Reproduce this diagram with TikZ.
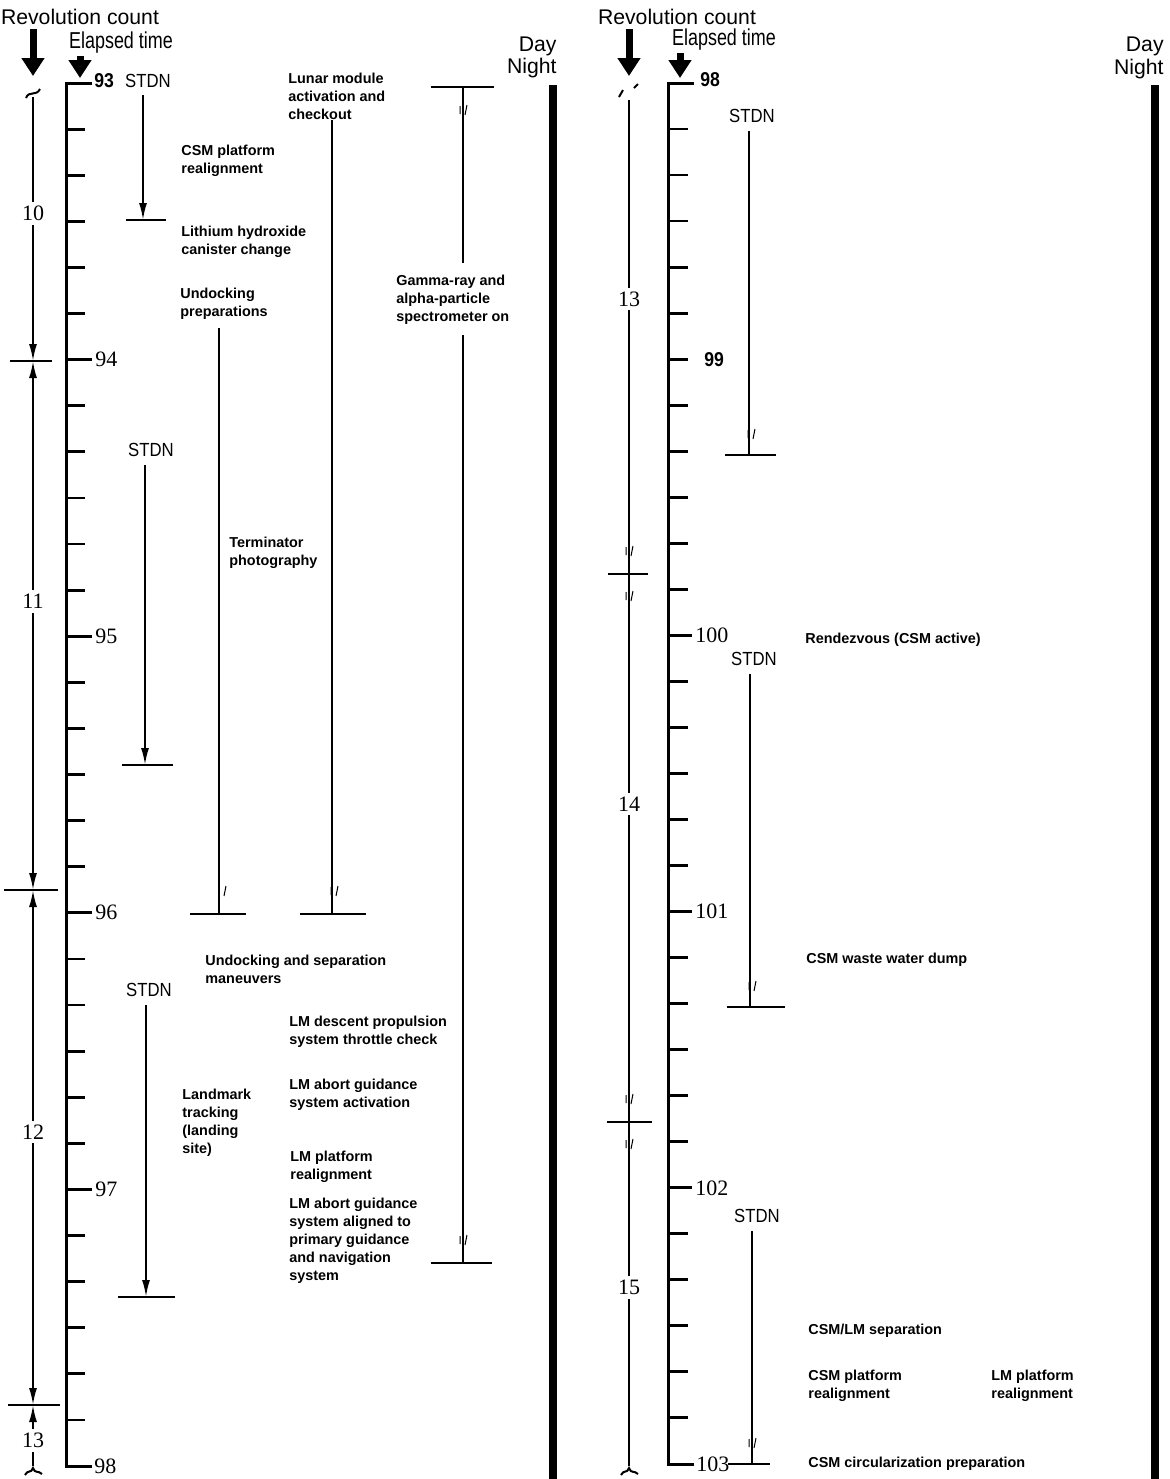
\documentclass[tikz,border=0pt]{standalone}
\usepackage{fontspec}
\setmainfont{Liberation Sans}
\newfontfamily\narrowfont[FakeStretch=0.88]{Liberation Sans}
\newfontfamily\condfont[FakeStretch=0.78]{Liberation Sans}
\newfontfamily\numfont{Liberation Serif}
\usetikzlibrary{arrows.meta,positioning}

\tikzset{
  axis/.style={line width=1.5pt},
  minortick/.style={line width=1.4pt},
  revline/.style={line width=1pt},
  crossbar/.style={line width=0.8pt},
  span/.style={line width=1pt},
  endbar/.style={line width=1pt},
  daynight/.style={line width=4pt},
  task/.style={font=\bfseries\fontsize{7.2}{9}\selectfont, align=left, anchor=north west, inner sep=0pt},
  head/.style={font=\fontsize{10.6}{12}\selectfont, inner sep=0pt},
  elap/.style={font=\condfont\fontsize{11.5}{12}\selectfont, inner sep=0pt},
  stdnlbl/.style={font=\narrowfont\fontsize{9.5}{11}\selectfont, inner sep=0pt},
  hourlbl/.style={font=\numfont\fontsize{11}{11}\selectfont, anchor=west, inner sep=1pt},
  hoursans/.style={font=\narrowfont\bfseries\fontsize{10}{11}\selectfont, anchor=west, inner sep=1pt},
  revnum/.style={font=\numfont\fontsize{11}{11}\selectfont, fill=white, inner ysep=2pt, inner xsep=1pt},
  bigarrow/.style={line width=3.5pt, -{Triangle[length=9pt,width=11pt]}},
  brk/.pic={\draw[line width=0.5pt] (-3,-6) -- (-3,2) (4,-7) -- (2,3);},
}

\begin{document}
\begin{tikzpicture}[x=0.5pt,y=-0.5pt,>={Latex[length=8.5pt,width=4pt]}]
\useasboundingbox (0,0) rectangle (1169,1479);

%% ---------- left half: 93 to 98 hours ----------
\node[head] (revL) at (80,17) {Revolution count};
\node[elap] (elapL) at (121,43) {Elapsed time};
\coordinate (revLtip) at (33,76);
\coordinate (elapLtip) at (80,78);
\draw[bigarrow,shorten <=2pt] (revLtip |- revL.south) -- (revLtip);
\draw[bigarrow,shorten <=1pt] (elapLtip |- elapL.south) -- (elapLtip);

% elapsed time scale
\coordinate (t93) at (66,83);
\coordinate (t98) at (66,1466);
\draw[axis] (t93) ++(26,0) -- (t93) -- (t98) -- ++(26,0);
\foreach \k in {1,...,29}
  \draw[minortick] (66,{83+\k*46.1}) -- ++(19,0);
\foreach \h [count=\i] in {94,...,97}
  \draw[minortick] (66,{83+\i*276.6}) -- ++(26,0) node[hourlbl] (hL\h) {\h};
\node[hoursans] (hL93) at (92,81) {93};
\node[hourlbl] (hL98) at (92,1466) {98};

% revolution count
\coordinate (rL0) at (33,97);
\coordinate (rL1) at (33,361);
\coordinate (rL2) at (33,890);
\coordinate (rL3) at (33,1405);
\coordinate (rL4) at (33,1466);
\draw[revline,->] (rL0) -- node[revnum,pos=0.44] (rev10) {10} (rL1);
\draw[revline,<->] (rL1) -- node[revnum,pos=0.455] (rev11) {11} (rL2);
\draw[revline,<->] (rL2) -- node[revnum,pos=0.47] (rev12) {12} (rL3);
\draw[revline,<-] (rL3) -- node[revnum,pos=0.58] (rev13) {13} (rL4);
\draw[crossbar] (rL1) ++(-23,0) -- ++(42,0);
\draw[crossbar] (rL2) ++(-29,0) -- ++(54,0);
\draw[crossbar] (rL3) ++(-25,0) -- ++(52,0);
\draw[revline] (26,98) .. controls (29,90) and (36,97) .. (40,89);
\draw[revline] (25,1475) .. controls (28,1469) and (31,1474) .. (33,1468)
  .. controls (35,1474) and (38,1470) .. (42,1474);

% tasks
\node[stdnlbl] (stdnA) at (148,81) {STDN};
\coordinate (stdnAend) at (143,220);
\draw[span,->,shorten <=3.5pt] (stdnA.south -| stdnAend) -- (stdnAend);
\draw[endbar] (stdnAend) ++(-17,0) -- ++(40,0);

\node[task] (csmPlatA) at (181,145) {CSM platform\\realignment};
\node[task] (lioh) at (181,226) {Lithium hydroxide\\canister change};

\node[task] (undPrep) at (180,288) {Undocking\\preparations};
\coordinate (undPrepEnd) at (219,914);
\draw[span,shorten <=4pt] (undPrep.south -| undPrepEnd) -- (undPrepEnd);
\draw[endbar] (undPrepEnd) ++(-29,0) -- ++(56,0);
\pic at (222,893) {brk};

\node[task] (lmAct) at (288,73) {Lunar module\\activation and\\checkout};
\coordinate (lmActEnd) at (332,914);
\draw[span] (lmAct.south -| lmActEnd) -- (lmActEnd);
\draw[endbar] (lmActEnd) ++(-32,0) -- ++(66,0);
\pic at (334,893) {brk};

\node[task] (gamma) at (396,275) {Gamma-ray and\\alpha-particle\\spectrometer on};
\coordinate (gamStart) at (463,87);
\coordinate (gamEnd) at (463,1263);
\draw[span,shorten >=6pt] (gamStart) -- (gamStart |- gamma.north);
\draw[span,shorten <=5pt] (gamma.south -| gamEnd) -- (gamEnd);
\draw[endbar] (gamStart) ++(-32,0) -- ++(63,0);
\draw[endbar] (gamEnd) ++(-32,0) -- ++(61,0);
\pic at (463,112) {brk};
\pic at (463,1242) {brk};

\node[stdnlbl] (stdnB) at (151,450) {STDN};
\coordinate (stdnBend) at (145,765);
\draw[span,->,shorten <=4pt] (stdnB.south -| stdnBend) -- (stdnBend);
\draw[endbar] (stdnBend) ++(-23,0) -- ++(51,0);

\node[task] (termPhoto) at (229,537) {Terminator\\photography};

\node[task] (undSep) at (205,955) {Undocking and separation\\maneuvers};

\node[stdnlbl] (stdnC) at (149,990) {STDN};
\coordinate (stdnCend) at (146,1297);
\draw[span,->,shorten <=4pt] (stdnC.south -| stdnCend) -- (stdnCend);
\draw[endbar] (stdnCend) ++(-28,0) -- ++(57,0);

\node[task] (lmDps) at (289,1016) {LM descent propulsion\\system throttle check};
\node[task] (landmark) at (182,1089) {Landmark\\tracking\\(landing\\site)};
\node[task] (agsAct) at (289,1079) {LM abort guidance\\system activation};
\node[task] (lmPlat) at (290,1151) {LM platform\\realignment};
\node[task] (agsAlign) at (289,1198) {LM abort guidance\\system aligned to\\primary guidance\\and navigation\\system};

% day / night
\node[head,anchor=east] (dayL) at (557,46) {Day};
\node[head,anchor=east] (nightL) at (557,68) {Night};
\coordinate (dnL) at (553,85);
\draw[daynight] (dnL) -- (553,1479);

%% ---------- right half: 98 to 103 hours ----------
\node[head] (revR) at (677,17) {Revolution count};
\node[elap] (elapR) at (724,40) {Elapsed time};
\coordinate (revRtip) at (629,76);
\coordinate (elapRtip) at (680,78);
\draw[bigarrow,shorten <=2pt] (revRtip |- revR.south) -- (revRtip);
\draw[bigarrow,shorten <=1pt] (elapRtip |- elapR.south) -- (elapRtip);

% elapsed time scale
\coordinate (t98r) at (668,83);
\coordinate (t103) at (668,1464);
\draw[axis] (t98r) ++(26,0) -- (t98r) -- (t103) -- ++(26,0);
\foreach \k in {1,...,29}
  \draw[minortick] (668,{83+\k*46.03}) -- ++(20,0);
\foreach \h [count=\i] in {100,...,102}
  \draw[minortick] (668,{83+(\i+1)*276.2}) -- ++(24,0) node[hourlbl] (hR\h) {\h};
\node[hoursans] (hR98) at (698,80) {98};
\node[hoursans] (hR99) at (702,360) {99};
\node[hourlbl] (hR103) at (694,1464) {103};

% revolution count
\coordinate (rR0) at (629,100);
\coordinate (rR1) at (629,574);
\coordinate (rR2) at (629,1122);
\coordinate (rR3) at (629,1466);
\draw[revline] (rR0) -- node[revnum,pos=0.42] (rev13r) {13} (rR1)
  -- node[revnum,pos=0.42] (rev14) {14} (rR2)
  -- node[revnum,pos=0.48] (rev15) {15} (rR3);
\draw[crossbar] (rR1) ++(-21,0) -- ++(40,0);
\draw[crossbar] (rR2) ++(-22,0) -- ++(45,0);
\pic at (629,553) {brk};
\pic at (629,598) {brk};
\pic at (629,1101) {brk};
\pic at (629,1146) {brk};
\draw[revline] (619,97) -- (623,90) (634,88) -- (638,84);
\draw[revline] (621,1475) .. controls (624,1469) and (627,1474) .. (629,1468)
  .. controls (631,1474) and (634,1470) .. (638,1474);

% tasks
\node[stdnlbl] (stdnD) at (752,116) {STDN};
\coordinate (stdnDend) at (749,455);
\draw[span,shorten <=4pt] (stdnD.south -| stdnDend) -- (stdnDend);
\draw[endbar] (stdnDend) ++(-24,0) -- ++(51,0);
\pic at (751,436) {brk};

\node[task] (rndz) at (805,633) {Rendezvous (CSM active)};

\node[stdnlbl] (stdnE) at (754,659) {STDN};
\coordinate (stdnEend) at (750,1007);
\draw[span,shorten <=4pt] (stdnE.south -| stdnEend) -- (stdnEend);
\draw[endbar] (stdnEend) ++(-23,0) -- ++(58,0);
\pic at (752,988) {brk};

\node[task] (wwDump) at (806,953) {CSM waste water dump};

\node[stdnlbl] (stdnF) at (757,1216) {STDN};
\coordinate (stdnFend) at (752,1464);
\draw[span,shorten <=4pt] (stdnF.south -| stdnFend) -- (stdnFend);
\draw[endbar] (stdnFend) ++(-24,0) -- ++(42,0);
\pic at (752,1445) {brk};

\node[task] (csmLmSep) at (808,1324) {CSM/LM separation};
\node[task] (csmPlatB) at (808,1370) {CSM platform\\realignment};
\node[task] (lmPlatB) at (991,1370) {LM platform\\realignment};
\node[task] (circPrep) at (808,1457) {CSM circularization preparation};

% day / night
\node[head,anchor=east] (dayR) at (1164,46) {Day};
\node[head,anchor=east] (nightR) at (1164,69) {Night};
\coordinate (dnR) at (1155,85);
\draw[daynight] (dnR) -- (1155,1479);
\end{tikzpicture}
\end{document}
